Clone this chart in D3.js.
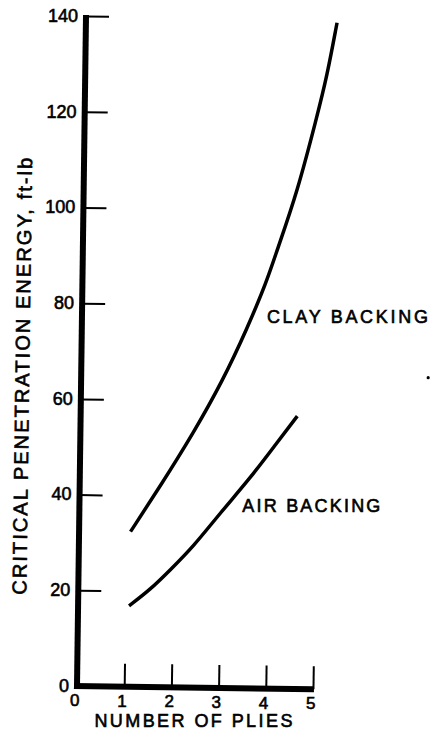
<!DOCTYPE html>
<html>
<head>
<meta charset="utf-8">
<script src="https://cdn.jsdelivr.net/npm/d3@7"></script>
<style>
  html, body { margin: 0; padding: 0; background: #fff; }
  svg { display: block; }
  text { font-family: "Liberation Sans", Arial, sans-serif; fill: #000; stroke: #000; stroke-width: 0.6px; }
</style>
</head>
<body>
<script>
// ---- data ----
const xTicks = [0, 1, 2, 3, 4, 5];
const yTicks = [0, 20, 40, 60, 80, 100, 120, 140];

const clayX = [1.09, 1.70, 2.39, 3.01, 3.49, 3.90, 4.11, 4.52, 4.92, 5.12, 5.32];
const clayY = [32.4, 41.9, 53.1, 64.4, 74.9, 84.9, 91.5, 103.6, 119.6, 128.0, 139.3];

const airX = [1.08, 1.52, 1.94, 2.42, 2.98, 3.61, 4.16, 4.59];
const airY = [16.9, 20.3, 24.5, 29.4, 36.5, 43.9, 51.3, 57.0];

const seriesNames = ["CLAY BACKING", "AIR BACKING"];
const xTitle = "NUMBER OF PLIES";
const yTitle = "CRITICAL PENETRATION ENERGY, ft-lb";

// ---- layout ----
const W = 431, H = 734;
const svg = d3.select("body").append("svg").attr("width", W).attr("height", H);

const x = d3.scaleLinear().domain([0, 5]).range([77, 313]);
const y = d3.scaleLinear().domain([0, 140]).range([686, 16]);

// the scanned figure is slightly rotated clockwise around the origin
const ANG = 0.77;
const ox = x(0), oy = y(0);
const ca = Math.cos(ANG * Math.PI / 180), sa = Math.sin(ANG * Math.PI / 180);
function rot(px, py) {
  const dx = px - ox, dy = py - oy;
  return [ox + dx * ca - dy * sa, oy + dx * sa + dy * ca];
}

const g = svg.append("g").attr("transform", `rotate(${ANG}, ${ox}, ${oy})`);
const tg = svg.append("g"); // texts: positions rotated, glyphs upright

// y axis
const yAxis = d3.axisRight(y).tickValues(yTicks).tickSize(23).tickFormat("");
const yG = g.append("g").attr("transform", `translate(${x(0)},0)`).call(yAxis);
yG.select(".domain").remove();
yG.selectAll(".tick line").attr("stroke", "#000").attr("stroke-width", 2);
yG.selectAll(".tick").filter(d => d === 0).remove();
g.append("line")
  .attr("x1", x(0)).attr("x2", x(0))
  .attr("y1", y(140) - 1).attr("y2", y(0) + 3)
  .attr("stroke", "#000").attr("stroke-width", 6);

// y tick labels
tg.append("g").selectAll("text").data(yTicks).join("text")
  .attr("transform", d => { const p = rot(x(0) - 8, y(d) + 6); return `translate(${p[0]},${p[1]})`; })
  .attr("text-anchor", "end")
  .attr("font-size", 18)
  .text(d => d);

// x axis
const xAxis = d3.axisTop(x).tickValues(xTicks.filter(d => d > 0)).tickSize(23).tickFormat("");
const xG = g.append("g").attr("transform", `translate(0,${y(0)})`).call(xAxis);
xG.select(".domain").remove();
xG.selectAll(".tick line").attr("stroke", "#000").attr("stroke-width", 2);
g.append("line")
  .attr("x1", x(0) - 3).attr("x2", x(5) + 1)
  .attr("y1", y(0)).attr("y2", y(0))
  .attr("stroke", "#000").attr("stroke-width", 6);

// x tick labels
tg.append("g").selectAll("text").data(xTicks).join("text")
  .attr("transform", d => { const p = rot(x(d) - 2, y(0) + 20); return `translate(${p[0]},${p[1]})`; })
  .attr("text-anchor", "middle")
  .attr("font-size", 17)
  .text(d => d);

// axis titles
{
  const p = rot(95, 727);
  tg.append("text")
    .attr("transform", `translate(${p[0]},${p[1]})`)
    .attr("font-size", 18)
    .attr("textLength", 198).attr("lengthAdjust", "spacing")
    .text(xTitle);
}
{
  const p = rot(25, 377);
  tg.append("text")
    .attr("transform", `translate(${p[0]},${p[1]}) rotate(${-90 + ANG})`)
    .attr("text-anchor", "middle")
    .attr("font-size", 20)
    .attr("textLength", 437).attr("lengthAdjust", "spacing")
    .text(yTitle);
}

// curves (smooth fit through the read points)
const line = d3.line().x(d => x(d[0])).y(d => y(d[1])).curve(d3.curveBasis);
const clay = clayX.map((v, i) => [v, clayY[i]]);
const air = airX.map((v, i) => [v, airY[i]]);

g.append("path").datum(clay).attr("d", line)
  .attr("fill", "none").attr("stroke", "#000").attr("stroke-width", 3.5);
g.append("path").datum(air).attr("d", line)
  .attr("fill", "none").attr("stroke", "#000").attr("stroke-width", 3.5);

// curve labels
{
  const p = rot(262, 320);
  tg.append("text")
    .attr("transform", `translate(${p[0]},${p[1]})`)
    .attr("font-size", 18)
    .attr("textLength", 161).attr("lengthAdjust", "spacing")
    .text(seriesNames[0]);
}
{
  const p = rot(240, 510);
  tg.append("text")
    .attr("transform", `translate(${p[0]},${p[1]})`)
    .attr("font-size", 18)
    .attr("textLength", 138).attr("lengthAdjust", "spacing")
    .text(seriesNames[1]);
}

// small stray mark on the scan
g.append("circle").attr("cx", 424).attr("cy", 373).attr("r", 1.6).attr("fill", "#000");
</script>
</body>
</html>
